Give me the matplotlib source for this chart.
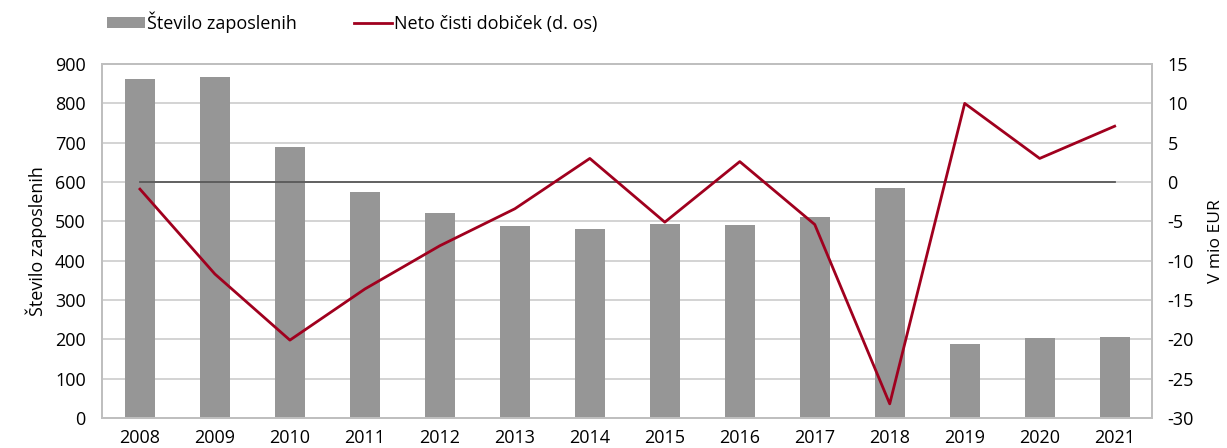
import matplotlib.pyplot as plt
import numpy as np

plt.rcParams['font.family'] = ['Open Sans', 'DejaVu Sans']
plt.rcParams['axes.unicode_minus'] = False

years = ['2008', '2009', '2010', '2011', '2012', '2013', '2014',
         '2015', '2016', '2017', '2018', '2019', '2020', '2021']
zaposleni = [861, 866, 690, 575, 520, 489, 480, 493, 491, 510, 585, 187, 203, 206]
dobicek = [-0.9, -11.7, -20.1, -13.6, -8.1, -3.4, 3.0, -5.1, 2.6, -5.4, -28.2, 10.0, 3.0, 7.1]
nicla = [0] * len(years)

fig = plt.figure(figsize=(12.27, 4.48), dpi=100)
ax = fig.add_axes([0.0835, 0.067, 0.8555, 0.79])
x = np.arange(len(years))

ax.bar(x, zaposleni, width=0.4, color='#969696', zorder=2, label='Število zaposlenih')
ax.set_xlim(-0.5, len(years) - 0.5)
ax.set_ylim(0, 900)
ax.set_yticks(range(0, 901, 100))
ax.set_xticks(x)
ax.set_xticklabels(years)
ax.grid(axis='y', color='#d0d0d0', linewidth=1.3, zorder=0)
ax.set_axisbelow(True)
ax.set_ylabel('Število zaposlenih', fontsize=13, labelpad=6)

ax2 = ax.twinx()
ax2.plot(x, nicla, color='#595959', linewidth=1.3, zorder=3)
ax2.plot(x, dobicek, color='#a0001e', linewidth=2, zorder=4, label='Neto čisti dobiček (d. os)')
ax2.set_ylim(-30, 15)
ax2.set_yticks(range(-30, 16, 5))
fig.text(1216 / 1227, 0.462, 'V mio EUR', rotation=90, ha='center', va='center', fontsize=12.5)

for a in (ax, ax2):
    a.tick_params(length=0, labelsize=13)
    for s in a.spines.values():
        s.set_color('#bfbfbf')
        s.set_linewidth(1.3)
ax.tick_params(axis='y', pad=12)
ax.tick_params(axis='x', pad=8)
ax2.tick_params(axis='y', pad=11)

h1, l1 = ax.get_legend_handles_labels()
h2, l2 = ax2.get_legend_handles_labels()
fig.legend(h1 + h2, l1 + l2, loc='upper left', bbox_to_anchor=(0.074, 1.01),
           ncol=2, frameon=False, fontsize=13, handlelength=2.1, handleheight=0.55,
           handletextpad=0.1, columnspacing=3.2)

fig.savefig('out.png', dpi=100)
